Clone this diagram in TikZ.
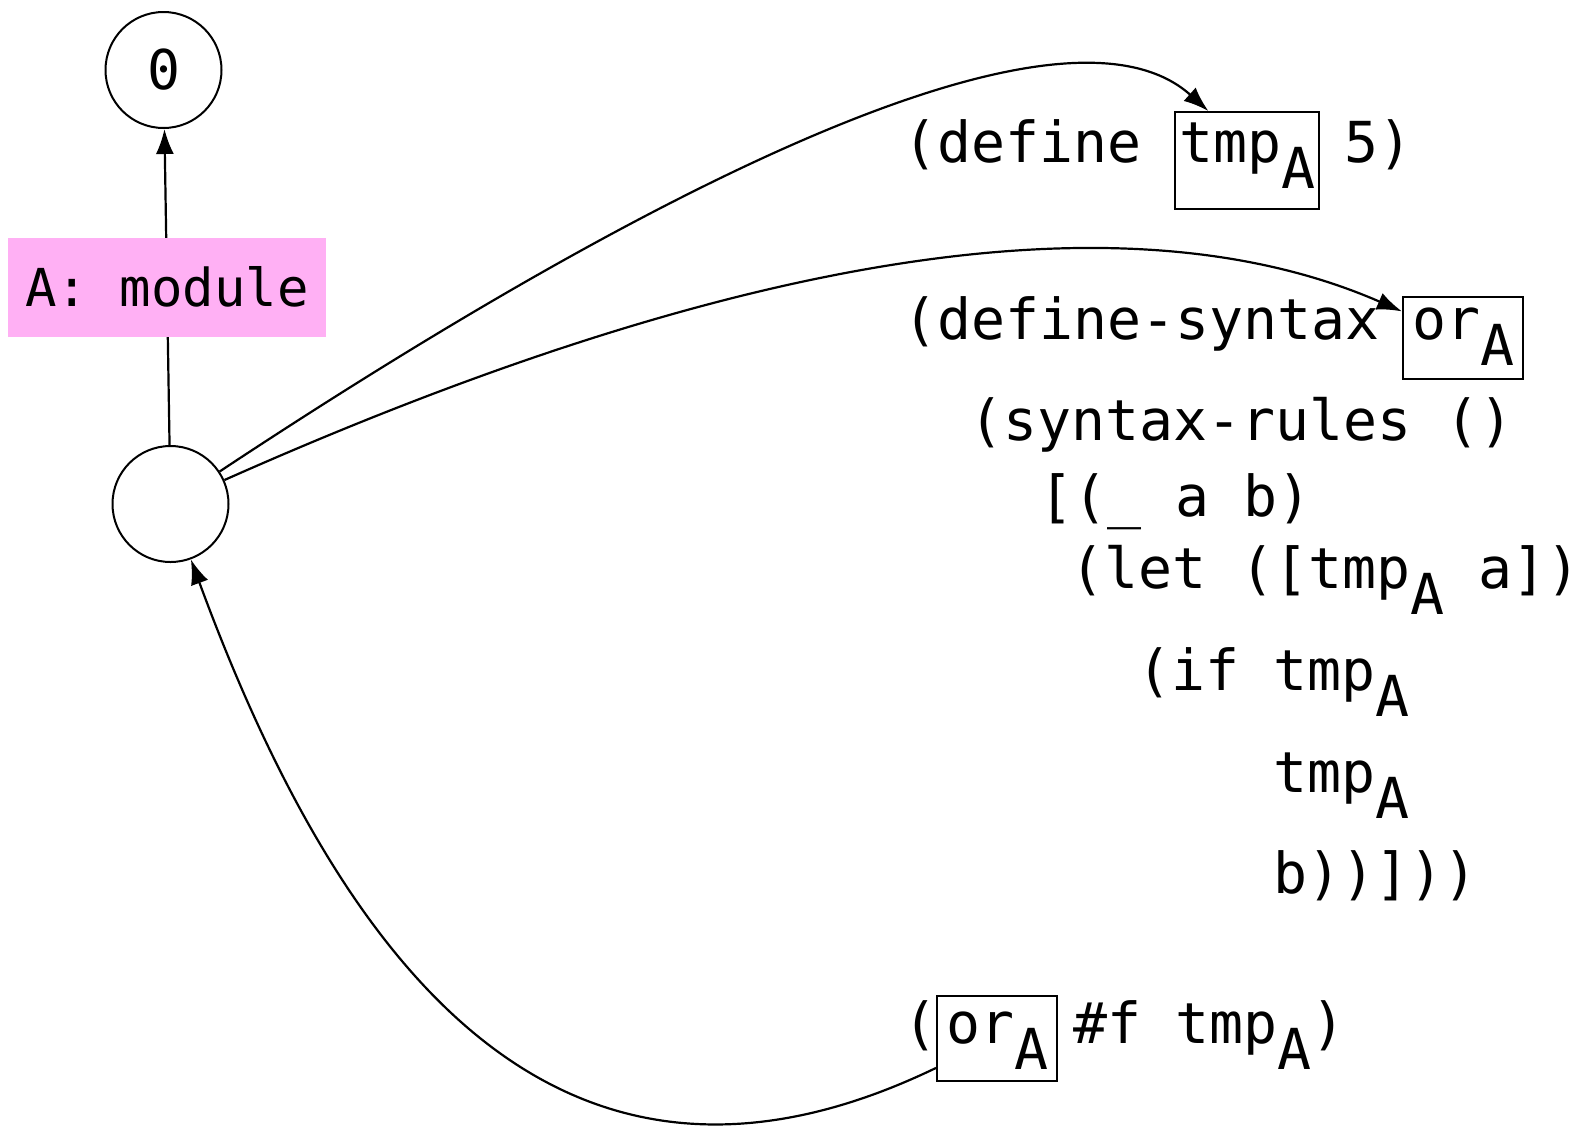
\documentclass[tikz,border=0pt]{standalone}
\usepackage{fontspec}
\newfontfamily\codefont{DejaVu Sans Mono}
\usetikzlibrary{arrows.meta}
\definecolor{modpink}{RGB}{255,176,244}
% lowered subscript scope tag
\newcommand\subA{\raisebox{-26pt}{A}}
\begin{document}
\begin{tikzpicture}[x=1pt,y=-1pt,
  code/.style={font=\codefont\fontsize{56.5}{60}\selectfont, inner sep=0pt, anchor=base west},
  boxed/.style={code, draw, line width=2pt, inner ysep=0pt},
  scopenode/.style={circle, draw, line width=2pt, minimum size=116pt, inner sep=0pt,
    font=\codefont\fontsize{54.8}{60}\selectfont},
  modlabel/.style={fill=modpink, minimum width=318pt, minimum height=99pt, inner sep=0pt,
    font=\codefont\fontsize{52.3}{60}\selectfont},
  link/.style={line width=2.2pt, -{Latex[length=25pt,width=18pt]}}
]
\useasboundingbox (0,0) rectangle (1585,1128);

% scope nodes
\node[scopenode] (z) at (163.5,70) {0};
\node[scopenode] (c) at (170.5,504) {};

% program text, one column = 34pt
\node[code] (l1a) at (903,162) {(define};
\node[boxed, inner xsep=4pt, text height=50pt, text depth=47pt] (tmpdef) at (1174,162) {tmp\subA};
\node[code] (l1b) at (1344,162) {5)};

\node[code] (l2a) at (903,339) {(define-syntax};
\node[boxed, inner xsep=9pt, text height=42pt, text depth=40pt] (ordef) at (1402,339) {or\subA};
\node[code] (l3) at (969,440) {(syntax-rules ()};
\node[code] (l4) at (1039,516) {[(\_ a b)};
\node[code] (l5) at (1070,588) {(let ([tmp\subA{} a])};
\node[code] (l6) at (1137,690) {(if tmp\subA};
\node[code] (l7) at (1273,792) {tmp\subA};
\node[code] (l8) at (1273,893) {b))]))};

\node[code] (l9a) at (903,1043) {(};
\node[boxed, inner xsep=9pt, text height=47pt, text depth=38pt] (oruse) at (936,1043) {or\subA};
\node[code] (l9b) at (1073,1043) {\#f tmp\subA)};

% connectors
\draw[link] (c) -- node[modlabel] (lbl) {A: module} (z);
\draw[link] (c) .. controls (636,196) and (1060,-22) .. (tmpdef.128);
\draw[link] (c) .. controls (636,297) and (1080,171) .. (ordef);
\draw[link] (oruse) .. controls (569,1245) and (347.5,985) .. (c);
\end{tikzpicture}
\end{document}
